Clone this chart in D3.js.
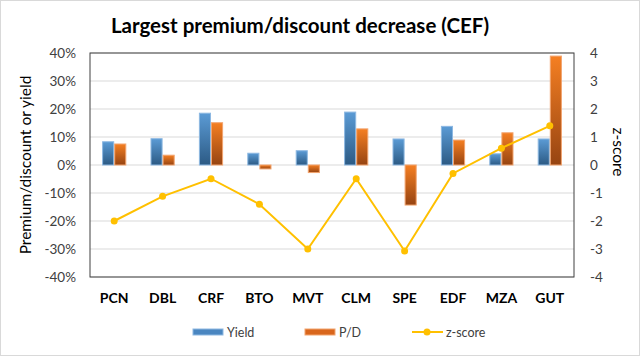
<!DOCTYPE html>
<html><head><meta charset="utf-8">
<script src="https://cdn.jsdelivr.net/npm/d3@7"></script>
<style>body{margin:0;background:#fff}svg{display:block;font-family:Lato,"Liberation Sans",sans-serif}</style>
</head><body><svg id="c" width="640" height="356"></svg>
<script>
const categories = ["PCN","DBL","CRF","BTO","MVT","CLM","SPE","EDF","MZA","GUT"];
const yieldVals = [8.3, 9.4, 18.5, 4.2, 5.1, 18.9, 9.3, 13.8, 4.0, 9.3];
const pdVals = [7.5, 3.5, 15.1, -1.4, -2.7, 12.9, -14.3, 8.9, 11.5, 38.9];
const zVals = [-2.0, -1.12, -0.49, -1.40, -3.0, -0.49, -3.07, -0.30, 0.60, 1.40];
const leftTicks = [-40,-30,-20,-10,0,10,20,30,40];
const rightTicks = [-4,-3,-2,-1,0,1,2,3,4];
const seriesNames = ["Yield","P/D","z-score"];

const svg = d3.select("#c");
const W=640,H=356;
const m={l:90,r:574,t:53,b:277};
svg.append("rect").attr("x",0.5).attr("y",0.5).attr("width",W-1).attr("height",H-1).attr("fill","#fff").attr("stroke","#d9d9d9");

const defs = svg.append("defs");
function grad(id,c1,c2,horiz){
  const g=defs.append("linearGradient").attr("id",id).attr("x1",0).attr("y1",0).attr("x2",horiz?1:0).attr("y2",horiz?0:1);
  g.append("stop").attr("offset","0%").attr("stop-color",c1);
  g.append("stop").attr("offset","100%").attr("stop-color",c2);
}
grad("gb","#5B9BD5","#2C5A84");
grad("go","#F57F22","#964412");

const x = d3.scaleBand().domain(categories).range([m.l,m.r]).paddingInner(0.5).paddingOuter(0.25);
const xs = d3.scaleBand().domain([0,1]).range([0,x.bandwidth()]);
const y = d3.scaleLinear().domain([-40,40]).range([m.b,m.t]);
const yz = d3.scaleLinear().domain([-4,4]).range([m.b,m.t]);

// gridlines
svg.append("g").selectAll("line").data(leftTicks).join("line")
  .attr("x1",m.l).attr("x2",m.r).attr("y1",d=>y(d)).attr("y2",d=>y(d))
  .attr("stroke","#d9d9d9").attr("stroke-width",1);

// bars
function bars(vals,idx,fill,stroke){
  svg.append("g").selectAll("rect").data(vals).join("rect")
    .attr("x",(d,i)=>x(categories[i])+xs(idx)+0.5)
    .attr("width",xs.bandwidth()-1)
    .attr("y",d=>y(Math.max(0,d)))
    .attr("height",d=>Math.abs(y(d)-y(0)))
    .attr("fill",fill).attr("stroke",stroke).attr("stroke-width",1);
}
bars(yieldVals,0,"url(#gb)","#8DB8E2");
bars(pdVals,1,"url(#go)","#F2A46E");

// plot frame
svg.append("rect").attr("x",m.l).attr("y",m.t).attr("width",m.r-m.l).attr("height",m.b-m.t)
  .attr("fill","none").attr("stroke","#404040").attr("stroke-width",1);

// z-score line
const line = d3.line().x((d,i)=>x(categories[i])+x.bandwidth()/2).y(d=>yz(d));
svg.append("path").datum(zVals).attr("d",line).attr("fill","none").attr("stroke","#FFC000").attr("stroke-width",2);
svg.append("g").selectAll("circle").data(zVals).join("circle")
  .attr("cx",(d,i)=>x(categories[i])+x.bandwidth()/2).attr("cy",d=>yz(d)).attr("r",3.5).attr("fill","#FFC000");

// axes
const fmt = d=>d+"%";
const la = svg.append("g").attr("transform",`translate(${m.l-14},0)`)
  .call(d3.axisLeft(y).tickValues(leftTicks).tickFormat(fmt).tickSize(0).tickPadding(0));
la.select(".domain").remove();
la.selectAll("text").attr("font-size",13.5).attr("fill","#404040").attr("font-family","Lato");

const ra = svg.append("g").attr("transform",`translate(${m.r+16},0)`)
  .call(d3.axisRight(yz).tickValues(rightTicks).tickFormat(d=>d).tickSize(0).tickPadding(0));
ra.select(".domain").remove();
ra.selectAll("text").attr("font-size",13.5).attr("fill","#404040").attr("font-family","Lato");

const ba = svg.append("g").attr("transform",`translate(0,${m.b+16})`)
  .call(d3.axisBottom(x).tickSize(0).tickPadding(0));
ba.select(".domain").remove();
ba.selectAll("text").attr("font-size",14).attr("font-weight","bold").attr("fill","#000").attr("font-family","Lato");

// titles
svg.append("text").attr("x",300).attr("y",33).attr("text-anchor","middle")
  .attr("font-size",20.5).attr("font-weight","bold").attr("fill","#000").text("Largest premium/discount decrease (CEF)");
svg.append("text").attr("transform","translate(31,165) rotate(-90)").attr("text-anchor","middle")
  .attr("font-size",15.5).attr("fill","#000").text("Premium/discount or yield");
svg.append("text").attr("transform","translate(613,152) rotate(90)").attr("text-anchor","middle")
  .attr("font-size",15.5).attr("fill","#000").text("z-score");

// legend
const lg = svg.append("g");
lg.append("rect").attr("x",193).attr("y",329).attr("width",30).attr("height",6).attr("fill","#4A86C0").attr("stroke","#8DB8E2");
lg.append("text").attr("x",227).attr("y",336.5).attr("font-size",12.5).attr("fill","#404040").text(seriesNames[0]);
lg.append("rect").attr("x",305).attr("y",329).attr("width",30).attr("height",6).attr("fill","#D9661C").attr("stroke","#F2A46E");
lg.append("text").attr("x",339).attr("y",336.5).attr("font-size",12.5).attr("fill","#404040").text(seriesNames[1]);
lg.append("line").attr("x1",412).attr("x2",443).attr("y1",332).attr("y2",332).attr("stroke","#FFC000").attr("stroke-width",2);
lg.append("circle").attr("cx",427).attr("cy",332).attr("r",3.5).attr("fill","#FFC000");
lg.append("text").attr("x",446).attr("y",336.5).attr("font-size",12.5).attr("fill","#404040").text(seriesNames[2]);
</script></body></html>
